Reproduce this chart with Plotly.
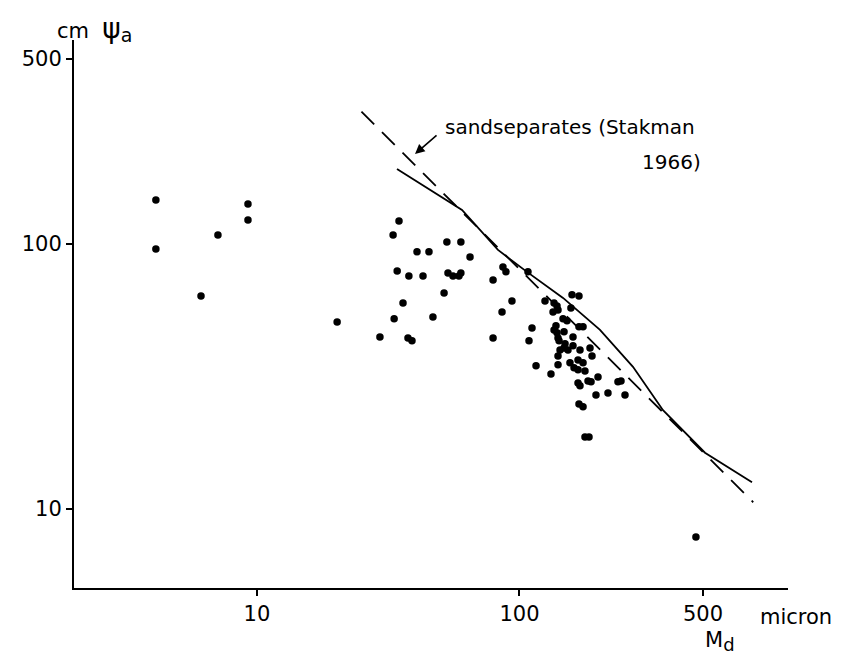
import numpy as np
import plotly.graph_objects as go

# Measured points: median particle diameter Md (micron) vs air-entry value psi_a (cm)
md = [4.12, 4.12, 9.24, 9.24, 7.10, 6.12, 20.2,
      34.75, 33.0, 40.7, 45.2, 52.9, 59.8, 64.8, 34.2, 37.9, 42.9, 53.4, 55.8, 58.8, 59.8,
      86.5, 88.8, 79.3, 51.6, 93.6, 36.0, 85.8, 33.3, 46.8, 29.4, 37.6, 38.95, 79.3, 107.7,
      111.6, 108.7, 115.6, 131.8, 125.1, 158.5, 168.5, 135.4, 139.0, 134.2, 140.2, 157.0,
      146.5, 151.7, 137.7, 135.4, 139.0, 147.8, 140.2, 141.5, 159.9, 168.5, 174.6, 149.1,
      159.9, 142.7, 147.8, 153.0, 170.0, 185.6, 188.9, 140.2, 140.2, 155.7, 167.1, 174.6,
      161.3, 167.1, 177.6, 167.1, 170.0, 182.4, 187.3, 199.1, 195.6, 217.3, 237.2, 243.6,
      252.3, 168.5, 174.6, 177.6, 184.0, 470.0]
psi = [146.7, 95.8, 141.7, 123.3, 108.2, 63.7, 50.8,
       122.2, 108.2, 93.4, 93.4, 101.8, 101.8, 89.4, 79.1, 75.8, 75.8, 77.8, 75.8, 75.8, 77.8,
       81.9, 78.5, 73.2, 65.4, 61.0, 59.9, 55.4, 52.2, 53.0, 44.6, 44.2, 43.1, 44.2, 78.5,
       48.2, 43.1, 34.7, 32.3, 61.0, 64.3, 63.7, 59.9, 58.4, 55.4, 56.4, 57.4,
       52.2, 51.3, 49.1, 47.4, 46.2, 46.6, 44.2, 43.1, 44.6, 48.7, 48.7, 42.0,
       41.3, 39.8, 40.5, 39.8, 39.8, 40.5, 37.8, 37.8, 35.0, 35.6, 36.5, 35.6,
       34.1, 33.5, 33.2, 29.9, 29.2, 30.4, 30.2, 31.5, 26.9, 27.4, 30.2, 30.4,
       26.9, 24.9, 24.3, 18.7, 18.7, 7.84]

# Solid curve
curve_md = [34.15, 60.4, 82.8, 106.8, 146.5, 202.6, 270.6, 352.1, 508.8, 580.4, 768.6]
curve_psi = [192.1, 134.5, 95.0, 78.5, 62.6, 47.4, 34.4, 23.6, 16.3, 15.0, 12.6]

# Dashed line: sand separates (Stakman 1966)
sand_md = [25.0, 777.0]
sand_psi = [316.0, 10.6]

x_ticks = [10, 100, 500]
y_ticks = [10, 100, 500]

FONT = "DejaVu Sans"

fig = go.Figure()
fig.add_trace(go.Scatter(x=sand_md, y=sand_psi, mode="lines",
                         line=dict(color="black", width=1.8, dash="18px,11px"),
                         showlegend=False, hoverinfo="skip"))
fig.add_trace(go.Scatter(x=curve_md, y=curve_psi, mode="lines",
                         line=dict(color="black", width=1.8),
                         showlegend=False, hoverinfo="skip"))
fig.add_trace(go.Scatter(x=md, y=psi, mode="markers",
                         marker=dict(color="black", size=7.5, symbol="circle"),
                         showlegend=False))

fig.update_layout(
    width=843, height=657,
    margin=dict(l=74, r=55, t=40, b=69),
    paper_bgcolor="white", plot_bgcolor="white",
    font=dict(family=FONT, size=20, color="black"),
    xaxis=dict(type="log", range=[np.log10(2.009), np.log10(1054)],
               showline=True, linecolor="black", linewidth=2,
               showgrid=False, zeroline=False,
               tickmode="array", tickvals=x_ticks, ticktext=[str(v) for v in x_ticks],
               ticks="outside", ticklen=6, tickwidth=1.5, tickcolor="black",
               tickfont=dict(family=FONT, size=21)),
    yaxis=dict(type="log", range=[np.log10(5.03), np.log10(589)],
               showline=True, linecolor="black", linewidth=2,
               showgrid=False, zeroline=False,
               tickmode="array", tickvals=y_ticks, ticktext=[str(v) for v in y_ticks],
               ticks="outside", ticklen=6, tickwidth=1.5, tickcolor="black",
               tickfont=dict(family=FONT, size=21)),
)

anns = [
    dict(x=-0.027, y=1.02, xref="paper", yref="paper", xanchor="left", yanchor="middle",
         text="cm  <span style='font-size:28px'>ψ</span><sub><span style='font-size:19px'>a</span></sub>",
         showarrow=False, font=dict(size=21)),
    dict(x=0.958, y=-0.053, xref="paper", yref="paper", xanchor="left", yanchor="middle",
         text="micron", showarrow=False, font=dict(size=21)),
    dict(x=0.905, y=-0.097, xref="paper", yref="paper", xanchor="center", yanchor="middle",
         text="M<sub><span style='font-size:18px'>d</span></sub>", showarrow=False, font=dict(size=21)),
    dict(x=np.log10(51.1), y=np.log10(276.7), xref="x", yref="y", xanchor="left", yanchor="middle",
         text="sandseparates (Stakman", showarrow=False, font=dict(size=20)),
    dict(x=np.log10(287.8), y=np.log10(204), xref="x", yref="y", xanchor="left", yanchor="middle",
         text="1966)", showarrow=False, font=dict(size=20)),
    dict(x=np.log10(40.0), y=np.log10(218.7), xref="x", yref="y", text="",
         showarrow=True, arrowhead=2, arrowsize=1.2, arrowwidth=1.6, arrowcolor="black",
         ax=23, ay=-20),
]
fig.update_layout(annotations=anns)

fig.write_html("out.html")
